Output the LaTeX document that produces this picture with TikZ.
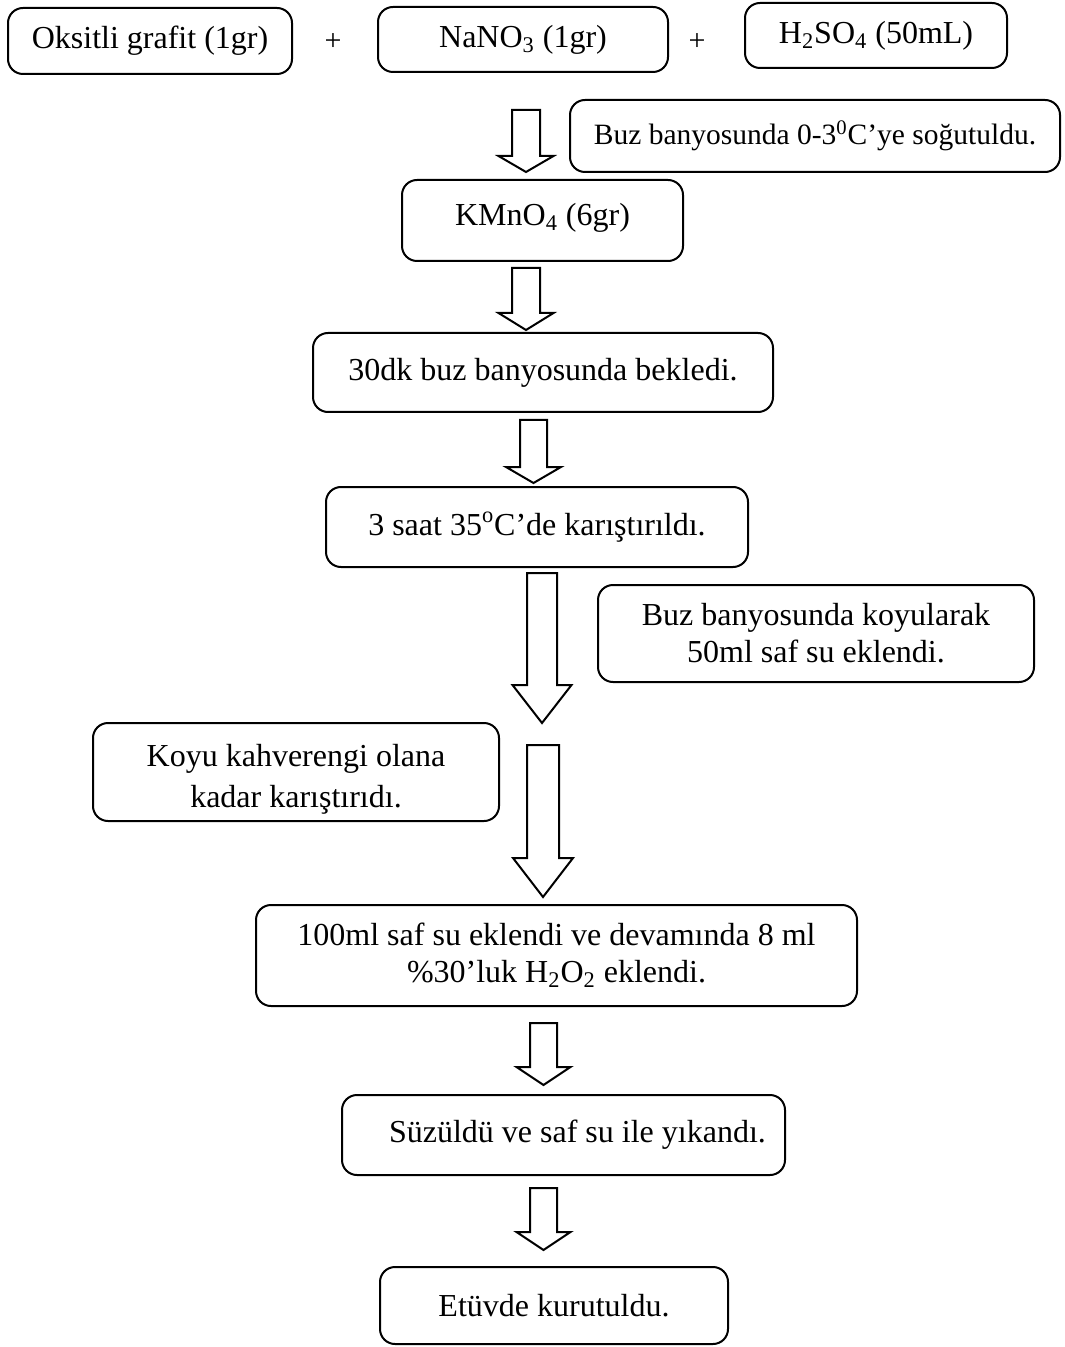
\documentclass[tikz,border=0pt]{standalone}
\usepackage{fontspec}
\setmainfont{Liberation Serif}
\newcommand{\blockarrow}[5]{%
  \draw[blk] (#1) ++(-#2,0) -- ++(2*#2,0) -- ++(0,#3) -- ++(#4-#2,0)
    -- ++(-#4,#5) -- ++(-#4,-#5) -- ++(#4-#2,0) -- cycle;}
\begin{document}
\begin{tikzpicture}[x=0.5pt,y=-0.5pt,
  box/.style={draw, line width=1pt, rounded corners=7.5pt, inner sep=0pt,
    align=center, font=\fontsize{16}{18.5}\selectfont},
  blk/.style={draw, line width=1pt, line join=miter, fill=white},
  plus/.style={font=\fontsize{15}{18}\selectfont}]
\useasboundingbox (0,0) rectangle (1064,1347);
% top row
\node[box, minimum width=142pt, minimum height=33pt] (b1) at (150,41) {Oksitli grafit (1gr)};
\node[plus] (p1) at (333,42) {+};
\node[box, minimum width=145pt, minimum height=32.5pt] (b2) at (523,39.5) {NaNO\textsubscript{3} (1gr)};
\node[plus] (p2) at (697,42) {+};
\node[box, minimum width=131pt, minimum height=32.5pt] (b3) at (876,35.5) {H\textsubscript{2}SO\textsubscript{4} (50mL)};
% side note 1
\node[box, minimum width=245pt, minimum height=36pt, font=\fontsize{14.75}{17}\selectfont] (n1) at (815,136) {Buz banyosunda 0-3\textsuperscript{0}C’ye soğutuldu.};
% main chain
\node[box, minimum width=140.5pt, minimum height=40.5pt] (b4) at (542.5,220.5) {\raisebox{6pt}{KMnO\textsubscript{4} (6gr)}};
\node[box, minimum width=230pt, minimum height=39.5pt] (b5) at (543,372.5) {30dk buz banyosunda bekledi.};
\node[box, minimum width=211pt, minimum height=40pt] (b6) at (537,527) {3 saat 35\textsuperscript{o}C’de karıştırıldı.};
\node[box, minimum width=218pt, minimum height=48.5pt] (n2) at (816,633.5) {Buz banyosunda koyularak\\50ml saf su eklendi.};
\node[box, minimum width=203pt, minimum height=49pt] (n3) at (296,772) {\raisebox{-4pt}[\height][\depth]{\begin{tabular}{@{}c@{}}Koyu kahverengi olana\\[2pt]kadar karıştırıdı.\end{tabular}}};
\node[box, minimum width=300.5pt, minimum height=50.5pt] (b7) at (556.5,955.5) {100ml saf su eklendi ve devamında 8 ml\\\%30’luk H\textsubscript{2}O\textsubscript{2} eklendi.};
\node[box, minimum width=221.5pt, minimum height=40pt] (b8) at (563.5,1135) {\hspace*{14pt}Süzüldü ve saf su ile yıkandı.};
\node[box, minimum width=174pt, minimum height=38.5pt] (b9) at (554,1305.5) {Etüvde kurutuldu.};
% arrows
\coordinate (a1) at (526,110);
\coordinate (a2) at (526,268);
\coordinate (a3) at (533.5,420);
\coordinate (a4) at (542,573);
\coordinate (a5) at (543,745);
\coordinate (a6) at (543.5,1023);
\coordinate (a7) at (543.5,1188);
\blockarrow{a1}{14}{46}{27.5}{16}
\blockarrow{a2}{14}{45}{27.5}{17}
\blockarrow{a3}{13.5}{47}{27.5}{16}
\blockarrow{a4}{15}{112}{29.5}{38}
\blockarrow{a5}{16}{113}{30}{39}
\blockarrow{a6}{13.5}{44}{27}{18}
\blockarrow{a7}{13.5}{44}{27}{18}
\end{tikzpicture}
\end{document}
